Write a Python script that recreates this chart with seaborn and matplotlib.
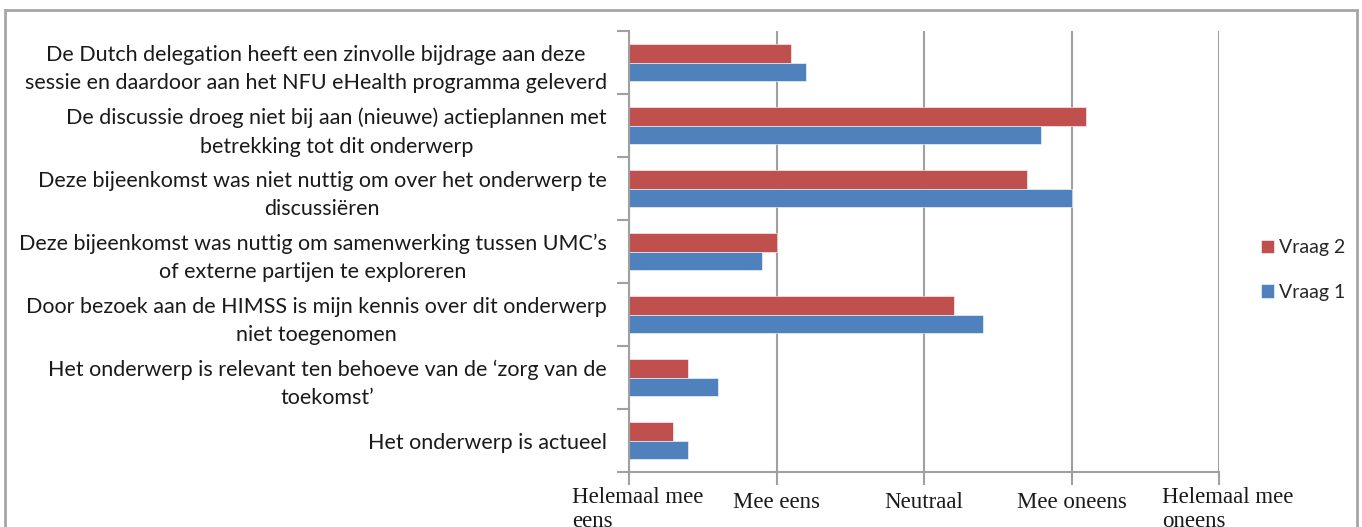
import matplotlib
matplotlib.use("Agg")
import matplotlib.pyplot as plt
import matplotlib.transforms as mtransforms
import seaborn as sns
import pandas as pd
from matplotlib.patches import Rectangle

# ---- data -------------------------------------------------------------
categories = [
    "De Dutch delegation heeft een zinvolle bijdrage aan deze\nsessie en daardoor aan het NFU eHealth programma geleverd",
    "De discussie droeg niet bij aan (nieuwe) actieplannen met\nbetrekking tot dit onderwerp",
    "Deze bijeenkomst was niet nuttig om over het onderwerp te\ndiscussiëren",
    "Deze bijeenkomst was nuttig om samenwerking tussen UMC’s\nof externe partijen te exploreren",
    "Door bezoek aan de HIMSS is mijn kennis over dit onderwerp\nniet toegenomen",
    "Het onderwerp is relevant ten behoeve van de ‘zorg van de\ntoekomst’",
    "Het onderwerp is actueel",
]
vraag1 = [2.20, 3.79, 4.00, 1.90, 3.40, 1.60, 1.40]
vraag2 = [2.10, 4.10, 3.70, 2.00, 3.20, 1.40, 1.30]
series = ["Vraag 2", "Vraag 1"]
x_values = [1, 2, 3, 4, 5]
x_labels = ["Helemaal mee\neens", "Mee eens", "Neutraal", "Mee oneens", "Helemaal mee\noneens"]
colors = {"Vraag 2": "#C0504D", "Vraag 1": "#4F81BD"}

df = pd.DataFrame({
    "Stelling": categories + categories,
    "Score": vraag2 + vraag1,
    "Vraag": [series[0]] * len(categories) + [series[1]] * len(categories),
})

# ---- figure -----------------------------------------------------------
sns.set_theme(style="white")
plt.rcParams["font.family"] = ["Lato", "DejaVu Sans"]

W, H = 1362, 527
fig = plt.figure(figsize=(W / 100, H / 100), dpi=100)
ax = fig.add_axes([629 / W, 1 - 472 / H, 590 / W, 441 / H])

sns.barplot(data=df, y="Stelling", x="Score", hue="Vraag", hue_order=series,
            order=categories, palette=colors, width=0.6, orient="h",
            saturation=1, edgecolor="white", linewidth=0.4, ax=ax, legend=True)

grey = "#A0A0A0"
ax.set_xlim(1, 5)
ax.set_ylim(len(categories) - 0.5, -0.5)
ax.set_xlabel("")
ax.set_ylabel("")

ax.set_axisbelow(True)
ax.xaxis.grid(True, color=grey, linewidth=1.5)
ax.yaxis.grid(False)
for s in ["top", "right"]:
    ax.spines[s].set_visible(False)
for s in ["left", "bottom"]:
    ax.spines[s].set_color(grey)
    ax.spines[s].set_linewidth(1.5)

ax.set_xticks(x_values)
ax.set_xticklabels(x_labels, fontfamily=["Liberation Serif"], fontsize=16.5,
                   color="#1a1a1a", linespacing=1.15)
ax.tick_params(axis="x", which="major", bottom=True, length=9, width=1.5,
               color=grey, pad=2)
for t in ax.get_xticklabels():
    t.set_multialignment("left")
    if "\n" in t.get_text():
        off = mtransforms.ScaledTranslation(9 / 100, 0, fig.dpi_scale_trans)
    else:
        off = mtransforms.ScaledTranslation(0, -5 / 100, fig.dpi_scale_trans)
    t.set_transform(t.get_transform() + off)

ax.set_yticks(range(len(categories)))
ax.set_yticklabels(categories, fontsize=15.5, color="#1a1a1a", linespacing=1.55)
for t in ax.get_yticklabels():
    t.set_multialignment("center")
ax.tick_params(axis="y", which="major", left=True, length=0, pad=16)
ax.set_yticks([i - 0.5 for i in range(len(categories) + 1)], minor=True)
ax.tick_params(axis="y", which="minor", left=True, length=9, width=1.5, color=grey)

# legend
handles, labels = ax.get_legend_handles_labels()
ax.get_legend().remove()
fig.legend(handles, labels, loc="center left",
           bbox_to_anchor=(1243 / W, 1 - 270 / H), frameon=False,
           fontsize=14, handlelength=0.7, handleheight=0.7,
           handletextpad=0.25, labelspacing=1.4)

# outer chart border
fig.patches.append(Rectangle((5 / W, -0.05), 1352 / W, 1.05 - 10 / H,
                             transform=fig.transFigure, fill=False,
                             edgecolor="#A6A6A6", linewidth=2))

fig.savefig("out.png", dpi=100)
